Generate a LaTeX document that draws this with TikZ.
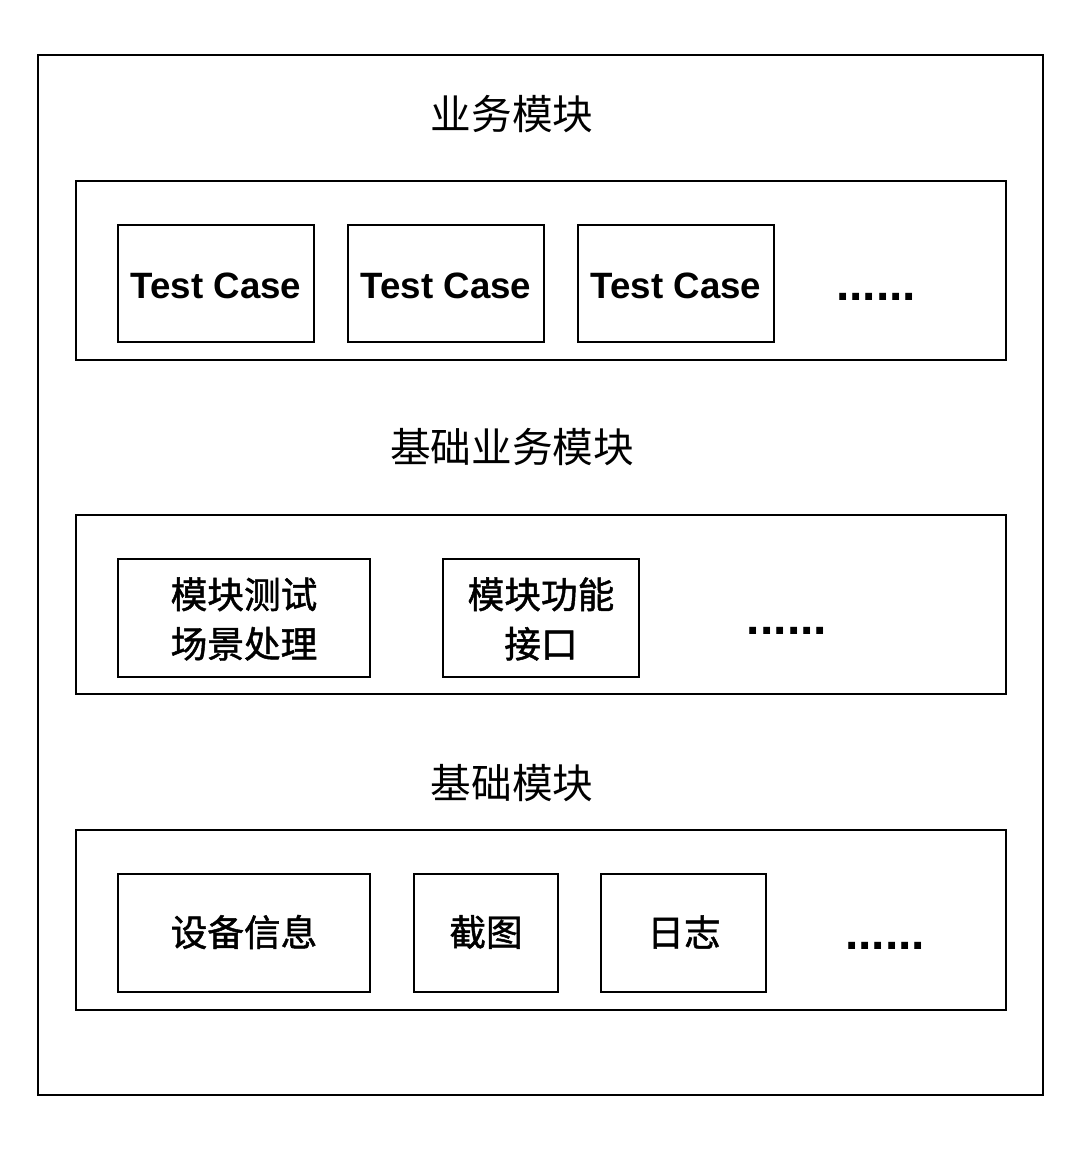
\documentclass[tikz,border=0pt]{standalone}
\usepackage{fontspec}
\setmainfont{Liberation Sans}
\newfontfamily\cjk{Noto Sans CJK SC}
\newfontfamily\cjkb[FakeBold=1.3]{Noto Sans CJK SC}
\begin{document}
\begin{tikzpicture}[x=0.75pt,y=-0.75pt,
  frame/.style={draw=black,line width=1.9pt},
  inbox/.style={draw=black,line width=1.9pt},
  ttl/.style={font=\cjk\fontsize{30.5}{36}\selectfont},
  lbl/.style={font=\cjkb\fontsize{27.5}{37}\selectfont,align=center},
  tc/.style={font=\bfseries\fontsize{27.5}{30}\selectfont},
  dots/.style={font=\bfseries\fontsize{36}{40}\selectfont,anchor=base,inner sep=0pt}]
\useasboundingbox (0,0) rectangle (1086,1150);
\fill[white] (0,0) rectangle (1086,1150);
\draw[frame] (38,55) rectangle (1043,1095);
\node[ttl] (t1) at (512,114) {业务模块};
\draw[frame] (76,181) rectangle (1006,360);
\draw[inbox] (118,225) rectangle (314,342);
\node[tc] (a1) at (216,286) {Test Case};
\draw[inbox] (348,225) rectangle (544,342);
\node[tc] (a2) at (446,286) {Test Case};
\draw[inbox] (578,225) rectangle (774,342);
\node[tc] (a3) at (676,286) {Test Case};
\node[dots] (ad) at (876,300) {......};
\node[ttl] (t2) at (512,447) {基础业务模块};
\draw[frame] (76,515) rectangle (1006,694);
\draw[inbox] (118,559) rectangle (370,677);
\node[lbl] (b1) at (244,619) {模块测试\\场景处理};
\draw[inbox] (443,559) rectangle (639,677);
\node[lbl] (b2) at (541,619) {模块功能\\接口};
\node[dots] (bd) at (787,634) {......};
\node[ttl] (t3) at (512,783) {基础模块};
\draw[frame] (76,830) rectangle (1006,1010);
\draw[inbox] (118,874) rectangle (370,992);
\node[lbl] (c1) at (244,932) {设备信息};
\draw[inbox] (414,874) rectangle (558,992);
\node[lbl] (c2) at (486,932) {截图};
\draw[inbox] (601,874) rectangle (766,992);
\node[lbl] (c3) at (684,932) {日志};
\node[dots] (cd) at (885,949) {......};
\end{tikzpicture}
\end{document}
